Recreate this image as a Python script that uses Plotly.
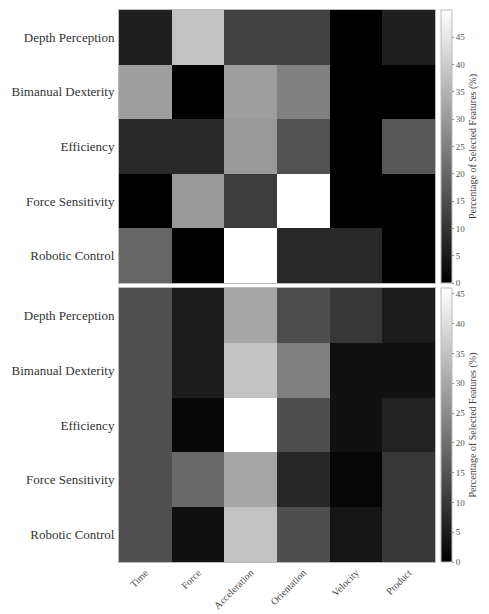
import plotly.graph_objects as go
from plotly.subplots import make_subplots

features = ["Time", "Force", "Acceleration", "Orientation", "Velocity", "Product"]
skills = ["Depth Perception", "Bimanual Dexterity", "Efficiency", "Force Sensitivity", "Robotic Control"]

top_values = [
    [6, 38, 13, 13, 0, 6],
    [31, 0, 31, 25, 0, 0],
    [8, 8, 30, 16, 0, 17],
    [0, 30, 12, 50, 0, 0],
    [20, 0, 50, 8, 8, 0],
]
bottom_values = [
    [14.3, 5, 30, 14, 10, 5],
    [14.3, 5, 35, 23, 3, 3],
    [14.3, 1.5, 46, 14, 3, 6],
    [14.3, 19, 30, 7, 1, 10],
    [14.3, 3, 35, 14, 4, 10],
]
top_max = 50
bottom_max = 46
cbar_ticks = [0, 5, 10, 15, 20, 25, 30, 35, 40, 45]
cbar_title = "Percentage of Selected Features (%)"

W, H = 489, 614
ml, mr, mt, mb = 119, 54, 10, 52
ph = H - mt - mb

def fy(p):
    return (H - mb - p) / ph

fig = make_subplots(rows=2, cols=1, shared_xaxes=True, vertical_spacing=0.01)

gray = [[0, "black"], [1, "white"]]

fig.add_trace(go.Heatmap(z=top_values, x=features, y=skills, coloraxis="coloraxis"), row=1, col=1)
fig.add_trace(go.Heatmap(z=bottom_values, x=features, y=skills, coloraxis="coloraxis2"), row=2, col=1)

font = "Times New Roman, Liberation Serif, DejaVu Serif, serif"

def cbar(ypos, length):
    return dict(
        x=1.018, xanchor="left", xpad=0, y=ypos, yanchor="top", len=length, lenmode="fraction",
        ypad=0, thickness=11, outlinewidth=1, outlinecolor="#bbbbbb",
        tickvals=cbar_ticks, ticks="outside", ticklen=2, tickcolor="#888888",
        tickfont=dict(family=font, size=9, color="#555555"),
        title=dict(text=cbar_title, side="right", font=dict(family=font, size=10, color="#444444")),
    )

top_dom = [fy(283), 1.0]
bot_dom = [0.0, fy(288)]

fig.update_layout(
    width=W, height=H,
    margin=dict(l=ml, r=mr, t=mt, b=mb, autoexpand=False),
    paper_bgcolor="white", plot_bgcolor="white",
    font=dict(family=font, color="#333333"),
    coloraxis=dict(colorscale=gray, cmin=0, cmax=top_max, colorbar=cbar(1.0, top_dom[1] - top_dom[0])),
    coloraxis2=dict(colorscale=gray, cmin=0, cmax=bottom_max, colorbar=cbar(bot_dom[1], bot_dom[1] - bot_dom[0])),
)

fig.update_yaxes(autorange="reversed", showline=True, mirror=True, linecolor="#bbbbbb", linewidth=1,
                 ticks="", tickfont=dict(family=font, size=13, color="#333333"), ticklabelstandoff=1)
fig.update_yaxes(domain=top_dom, row=1, col=1)
fig.update_yaxes(domain=bot_dom, row=2, col=1)
fig.update_xaxes(showline=True, mirror=True, linecolor="#bbbbbb", linewidth=1, ticks="",
                 tickangle=-45, tickfont=dict(family=font, size=10, color="#444444"))

fig.write_html("out.html", config={"displayModeBar": False},
               post_script="document.body.style.margin='0';document.body.style.padding='0';")
